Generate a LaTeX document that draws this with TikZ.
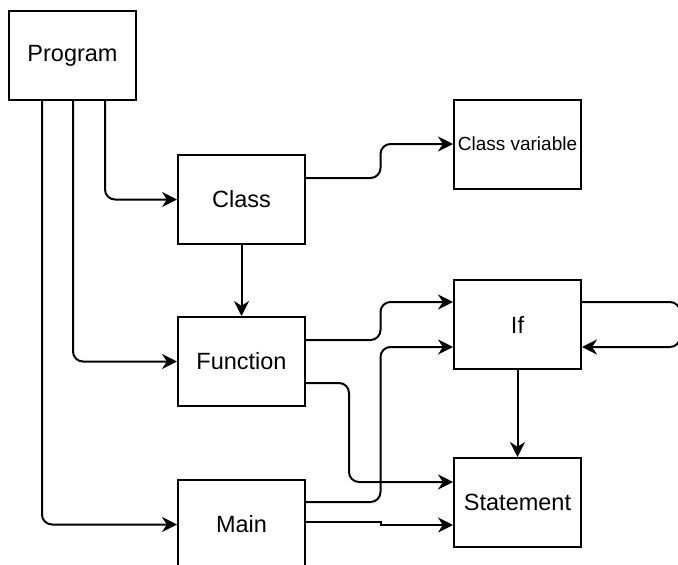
\documentclass[tikz,border=0pt]{standalone}
\usepackage{fontspec}
\setmainfont{Liberation Sans}
\usepackage{tikz}
\usetikzlibrary{calc}
\usetikzlibrary{arrows.meta}

\begin{document}
\begin{tikzpicture}[x=1pt, y=-1pt, line width=2pt,
    box/.style={draw, line width=2pt, minimum width=127pt, minimum height=89pt, inner sep=0pt, font=\fontsize{23.5}{27}\selectfont},
    arr/.style={line width=2pt, -{Stealth[length=15pt,width=15pt]}, rounded corners=10pt}]
\clip (0, 0) rectangle (678, 565);
\node[box] (prog) at (72.5, 55.5) {Program};
\node[box] (class) at (241.5, 199.5) {Class};
\node[box, font=\fontsize{19}{22}\selectfont] (classvar) at (517.5, 144) {Class variable};
\node[box] (func) at (241.5, 361.5) {Function};
\node[box] (ifn) at (517.5, 324.5) {If};
\node[box] (stmt) at (517.5, 502.5) {Statement};
\node[box] (main) at (241.5, 524.5) {Main};
% from Program
\draw[arr] ([xshift=32.5pt]prog.south) |- (class.west);
\draw[arr] ([xshift=0.5pt]prog.south) |- (func.west);
\draw[arr] ([xshift=-30.5pt]prog.south) |- (main.west);
\draw[arr] (class.south) -- (func.north);
\draw[arr] ([yshift=21.5pt]class.east) -- ++(74.5, 0) |- (classvar.west);
% to If and Statement
\draw[arr] ([yshift=21.5pt]func.east) -- ++(74.5, 0) |- ([yshift=22.5pt]ifn.west);
\draw[arr] ([yshift=-21.5pt]func.east) -- ++(43, 0) |- ([yshift=20.5pt]stmt.west);
\draw[arr] ([yshift=22.5pt]main.east) -- ++(74.5, 0) |- ([yshift=-22.5pt]ifn.west);
\draw[arr, sharp corners] ([yshift=2.5pt]main.east) -- ++(74.5, 0) |- ([yshift=-22.5pt]stmt.west);
\draw[arr] ([yshift=22.5pt]ifn.east) -- ++(98, 0) |- ([yshift=-22.5pt]ifn.east);
\draw[arr] (ifn.south) -- (stmt.north);
\end{tikzpicture}
\end{document}
